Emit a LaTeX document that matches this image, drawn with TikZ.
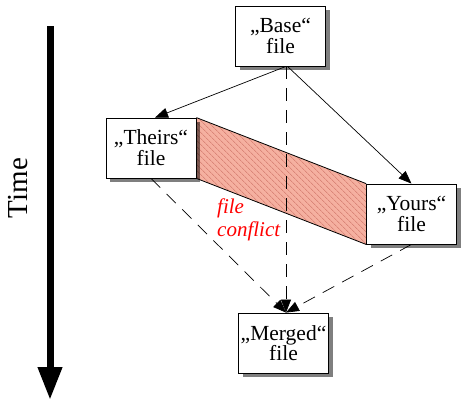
\documentclass[tikz,border=0pt]{standalone}
\usepackage{fontspec}
\setmainfont{Liberation Serif}
\newfontfamily\timesfont{Liberation Serif}
\usetikzlibrary{arrows.meta,patterns.meta,shadows,backgrounds}
\definecolor{conflictpink}{RGB}{245,176,160}
\definecolor{hatchred}{RGB}{205,112,100}
\newcommand{\fileboxtext}[2]{\raisebox{-2.5pt}[\height][\depth]{\timesfont\fontsize{21.5}{18}\selectfont\begin{tabular}{@{}c@{}}#1\\#2\end{tabular}}}
\begin{document}
\begin{tikzpicture}[x=1pt,y=-1pt,
  filebox/.style={draw=black, line width=0.8pt, fill=white, minimum width=90pt, minimum height=60pt,
    inner sep=0pt,
    drop shadow={shadow xshift=4pt, shadow yshift=-4pt, fill=black, opacity=0.5}},
  conn/.style={line width=0.7pt, -{Triangle[length=13pt,width=10pt]}},
  dashconn/.style={conn, dash pattern=on 13pt off 9pt}
]
\useasboundingbox (0,0) rectangle (462,413);

% Time axis
\coordinate (timetop) at (50,26);
\coordinate (timebot) at (50,400);
\draw[line width=7pt, -{Triangle[length=33pt,width=23pt]}] (timetop) -- (timebot);
\node[rotate=90, inner sep=0pt] (time) at (18,188) {\timesfont\fontsize{29}{30}\selectfont Time};

% boxes
\node[filebox] (base)   at (280.5,36)  {\fileboxtext{„Base“}{file}};
\node[filebox] (theirs) at (151,148)   {\fileboxtext{„Theirs“}{file}};
\node[filebox] (yours)  at (411.5,214) {\fileboxtext{„Yours“}{file}};
\node[filebox] (merged) at (283.5,343) {\fileboxtext{„Merged“}{file}};

\begin{pgfonlayer}{background}
  \fill[conflictpink] (theirs.north east) -- (yours.north west) -- (yours.south west) -- (theirs.south east) -- cycle;
  \fill[pattern={Lines[angle=-45,distance=4pt,line width=0.6pt]}, pattern color=hatchred]
    (theirs.north east) -- (yours.north west) -- (yours.south west) -- (theirs.south east) -- cycle;
  \draw[line width=0.8pt] (theirs.north east) -- (yours.north west);
  \draw[line width=0.8pt] (theirs.south east) -- (yours.south west);

  \draw[conn] ([xshift=5.5pt]base.south) -- ([xshift=4pt]theirs.north);
  \draw[conn] ([xshift=7pt]base.south) -- (yours.north);
  \draw[dashconn] ([xshift=5.5pt]base.south) -- ([xshift=2.5pt]merged.north);
  \draw[dashconn] (theirs.south) -- ([xshift=2.5pt]merged.north);
  \draw[dashconn] (yours.south) -- ([xshift=2.5pt]merged.north);
\end{pgfonlayer}

\node[text=red, anchor=north west, inner sep=0pt] (conflict) at (217,197)
  {\timesfont\itshape\fontsize{21}{23}\selectfont\begin{tabular}{@{}l@{}}file\\conflict\end{tabular}};
\end{tikzpicture}
\end{document}
